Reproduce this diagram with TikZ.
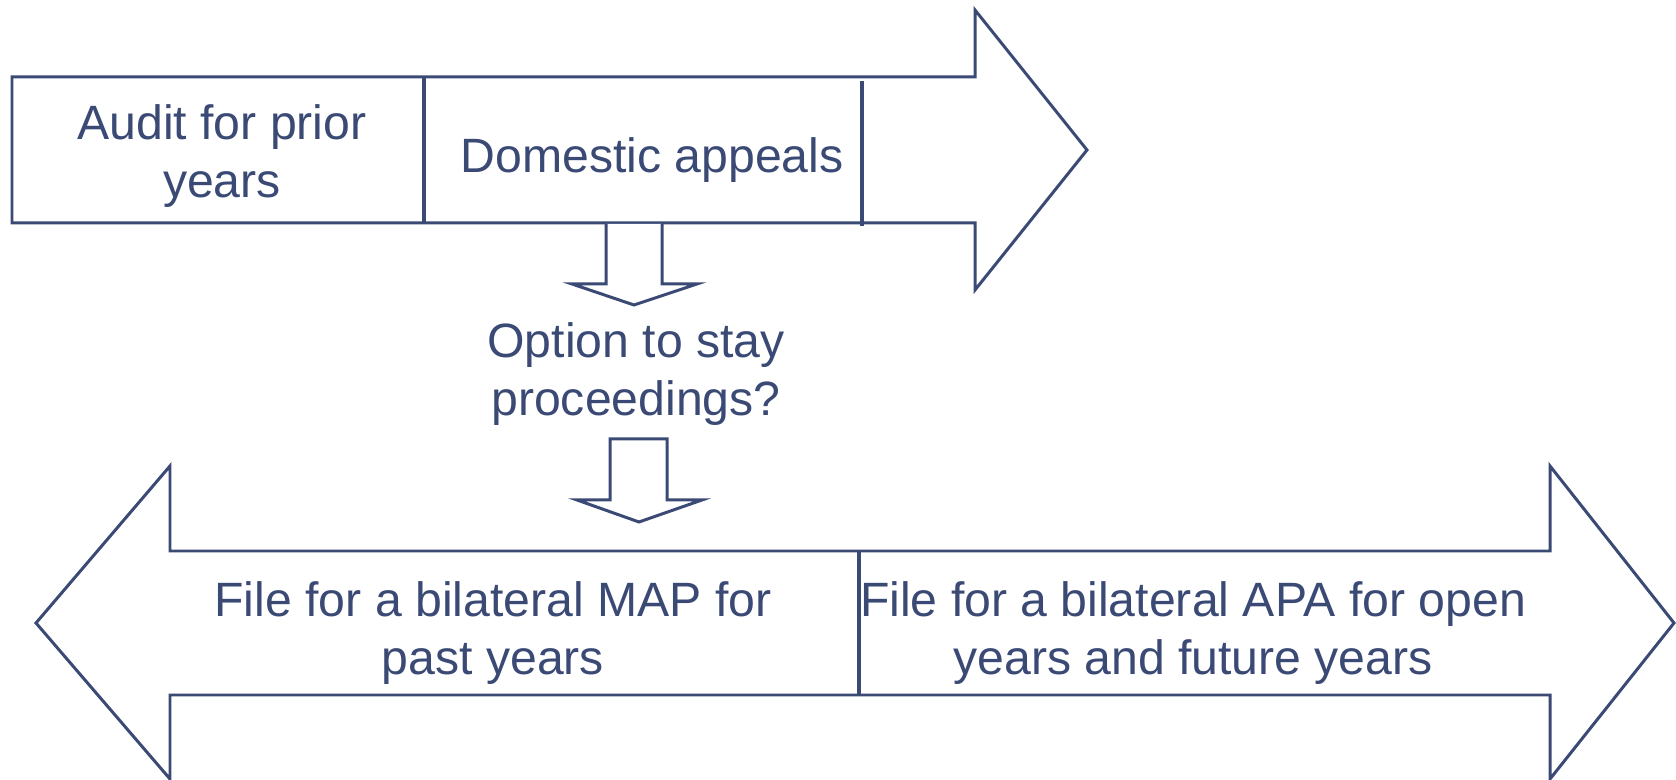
\documentclass[tikz,border=0pt]{standalone}
\usepackage{fontspec}
\setmainfont{Liberation Sans}
\usetikzlibrary{positioning}
\definecolor{slate}{HTML}{3A4A75}
\tikzset{
	outline/.style={draw=slate, line width=0.85pt, line join=miter, fill=white},
	divider/.style={draw=slate, line width=0.95pt},
	label/.style={text=slate, align=center, inner sep=0pt, font=\fontsize{13.7}{16.4}\selectfont}
}
\begin{document}
\begin{tikzpicture}[x=0.01cm, y=-0.01cm]
	\useasboundingbox (0,0) rectangle (1676,780);
	
	% top arrow
	\draw[outline] (12,77) -- (975,77) -- (975,10) -- (1087,150) -- (975,290) -- (975,223) -- (12,223) -- cycle;
	\draw[divider] (424,77) -- (424,223);
	\draw[divider] (862,81) -- (862,226);
	
	% bottom double arrow
	\draw[outline] (36,623) -- (170,466) -- (170,551) -- (1550,551) -- (1550,466) -- (1674,623) -- (1550,779) -- (1550,695) -- (170,695) -- (170,779) -- cycle;
	\draw[divider] (859,551) -- (859,695);
	
	% small down arrows
	\draw[outline] (606,224) -- (606,284) -- (572,284) -- (634,305) -- (697,284) -- (662,284) -- (662,224);
	\draw[outline] (610,439) -- (667,439) -- (667,500) -- (702,500) -- (639,522) -- (577,500) -- (610,500) -- cycle;
	
	\node (audit) [label] at (222,156) {Audit for prior\\years};
	\node (appeals) [label] at (652,160) {Domestic appeals};
	\node (stay) [label] at (636,374) {Option to stay\\proceedings?};
	\node (map) [label] at (493,633) {File for a bilateral MAP for\\past years};
	\node (apa) [label] at (1193,633) {File for a bilateral APA for open\\years and future years};
\end{tikzpicture}
\end{document}
